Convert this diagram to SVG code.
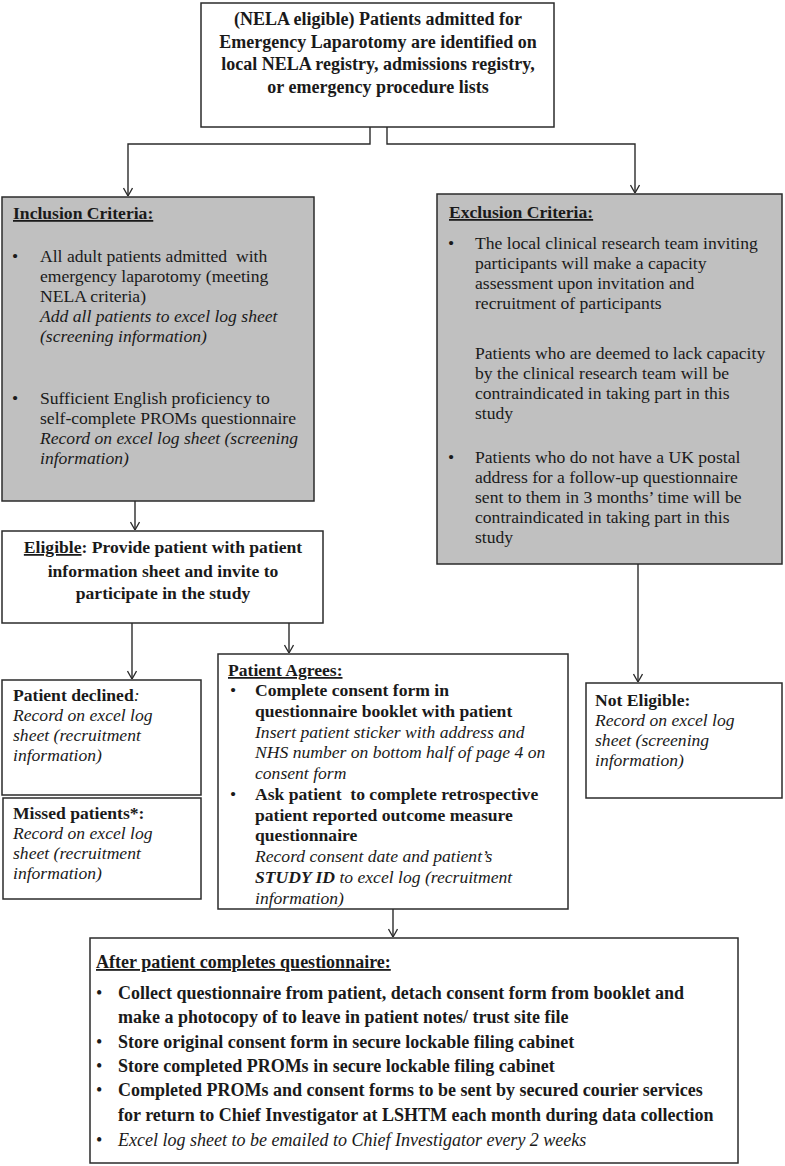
<svg xmlns="http://www.w3.org/2000/svg" width="785" height="1166" viewBox="0 0 785 1166">
<style>
.t{font-family:"Liberation Serif","Times New Roman",serif;font-size:17.6px;fill:#1a1a1a}
.h{font-size:18px}
.b{font-weight:bold}
.i{font-style:italic}
.u{text-decoration:underline}
.box{fill:#ffffff;stroke:#2b2b2b;stroke-width:1.5}
.grey{fill:#c0c0c0}
.conn{fill:none;stroke:#2b2b2b;stroke-width:1.4}
.c{text-anchor:middle}
</style>
<defs>
<marker id="arr" markerUnits="userSpaceOnUse" markerWidth="10" markerHeight="10" viewBox="0 0 10 10" refX="10" refY="5" orient="auto">
<path d="M2,0.5 L10,5 L2,9.5" fill="none" stroke="#2b2b2b" stroke-width="1.3"/>
</marker>
</defs>
<rect width="785" height="1166" fill="#ffffff"/>

<g id="connectors">
<polyline class="conn" points="370,127 370,144 128,144 128,196" marker-end="url(#arr)"/>
<polyline class="conn" points="387,127 387,144 635,144 635,193" marker-end="url(#arr)"/>
<line class="conn" x1="135" y1="501" x2="135" y2="530" marker-end="url(#arr)"/>
<line class="conn" x1="132" y1="623" x2="132" y2="679" marker-end="url(#arr)"/>
<line class="conn" x1="289" y1="623" x2="289" y2="653" marker-end="url(#arr)"/>
<line class="conn" x1="638" y1="564" x2="638" y2="682" marker-end="url(#arr)"/>
<line class="conn" x1="393" y1="909" x2="393" y2="937" marker-end="url(#arr)"/>
</g>

<g id="start">
<rect class="box" x="201" y="3" width="353" height="124"/>
<text class="t h b c" x="378" y="25">(NELA eligible) Patients admitted for</text>
<text class="t h b c" x="378" y="48">Emergency Laparotomy are identified on</text>
<text class="t h b c" x="378" y="70">local NELA registry, admissions registry,</text>
<text class="t h b c" x="378" y="93">or emergency procedure lists</text>
</g>

<g id="inclusion">
<rect class="box grey" x="2" y="197" width="312" height="304"/>
<text class="t b u" x="13" y="219">Inclusion Criteria:</text>
<text class="t" x="12" y="262">•</text>
<text class="t" x="40" y="262" xml:space="preserve">All adult patients admitted  with</text>
<text class="t" x="40" y="282">emergency laparotomy (meeting</text>
<text class="t" x="40" y="302">NELA criteria)</text>
<text class="t i" x="40" y="322">Add all patients to excel log sheet</text>
<text class="t i" x="40" y="342">(screening information)</text>
<text class="t" x="12" y="404">•</text>
<text class="t" x="40" y="404">Sufficient English proficiency to</text>
<text class="t" x="40" y="424">self-complete PROMs questionnaire</text>
<text class="t i" x="40" y="444">Record on excel log sheet (screening</text>
<text class="t i" x="40" y="464">information)</text>
</g>

<g id="exclusion">
<rect class="box grey" x="437" y="194" width="345" height="370"/>
<text class="t b u" x="449" y="218">Exclusion Criteria:</text>
<text class="t" x="448" y="249">•</text>
<text class="t" x="475" y="249">The local clinical research team inviting</text>
<text class="t" x="475" y="269">participants will make a capacity</text>
<text class="t" x="475" y="289">assessment upon invitation and</text>
<text class="t" x="475" y="309">recruitment of participants</text>
<text class="t" x="475" y="359">Patients who are deemed to lack capacity</text>
<text class="t" x="475" y="379">by the clinical research team will be</text>
<text class="t" x="475" y="399">contraindicated in taking part in this</text>
<text class="t" x="475" y="419">study</text>
<text class="t" x="448" y="463">•</text>
<text class="t" x="475" y="463">Patients who do not have a UK postal</text>
<text class="t" x="475" y="483">address for a follow-up questionnaire</text>
<text class="t" x="475" y="503">sent to them in 3 months’ time will be</text>
<text class="t" x="475" y="523">contraindicated in taking part in this</text>
<text class="t" x="475" y="543">study</text>
</g>

<g id="eligible">
<rect class="box" x="2" y="531" width="321" height="92"/>
<text class="t b c" x="163" y="553"><tspan class="u">Eligible</tspan>: Provide patient with patient</text>
<text class="t b c" x="163" y="577">information sheet and invite to</text>
<text class="t b c" x="163" y="599">participate in the study</text>
</g>

<g id="declined">
<rect class="box" x="2" y="680" width="199" height="115"/>
<text class="t" x="13" y="701"><tspan class="b">Patient declined</tspan><tspan class="i">:</tspan></text>
<text class="t i" x="13" y="721">Record on excel log</text>
<text class="t i" x="13" y="741">sheet (recruitment</text>
<text class="t i" x="13" y="761">information)</text>
</g>

<g id="missed">
<rect class="box" x="3" y="798" width="198" height="101"/>
<text class="t b" x="13" y="819">Missed patients*:</text>
<text class="t i" x="13" y="839">Record on excel log</text>
<text class="t i" x="13" y="859">sheet (recruitment</text>
<text class="t i" x="13" y="879">information)</text>
</g>

<g id="agrees">
<rect class="box" x="218" y="654" width="350" height="255"/>
<text class="t b u" x="228" y="676">Patient Agrees:</text>
<text class="t" x="230" y="696">•</text>
<text class="t b" x="255" y="696">Complete consent form in</text>
<text class="t b" x="255" y="717">questionnaire booklet with patient</text>
<text class="t i" x="255" y="738">Insert patient sticker with address and</text>
<text class="t i" x="255" y="758">NHS number on bottom half of page 4 on</text>
<text class="t i" x="255" y="779">consent form</text>
<text class="t" x="230" y="800">•</text>
<text class="t b" x="255" y="800" xml:space="preserve">Ask patient  to complete retrospective</text>
<text class="t b" x="255" y="821">patient reported outcome measure</text>
<text class="t b" x="255" y="841">questionnaire</text>
<text class="t i" x="255" y="862">Record consent date and patient’s</text>
<text class="t i" x="255" y="883"><tspan class="b">STUDY ID</tspan> to excel log (recruitment</text>
<text class="t i" x="255" y="904">information)</text>
</g>

<g id="not-eligible">
<rect class="box" x="586" y="683" width="196" height="115"/>
<text class="t b" x="595" y="706">Not Eligible:</text>
<text class="t i" x="595" y="726">Record on excel log</text>
<text class="t i" x="595" y="746">sheet (screening</text>
<text class="t i" x="595" y="766">information)</text>
</g>

<g id="after">
<rect class="box" x="90" y="938" width="648" height="225"/>
<text class="t h b u" x="96" y="968">After patient completes questionnaire:</text>
<text class="t h" x="96" y="999">•</text>
<text class="t h b" x="118" y="999">Collect questionnaire from patient, detach consent form from booklet and</text>
<text class="t h b" x="118" y="1023">make a photocopy of to leave in patient notes/ trust site file</text>
<text class="t h" x="96" y="1048">•</text>
<text class="t h b" x="118" y="1048">Store original consent form in secure lockable filing cabinet</text>
<text class="t h" x="96" y="1072">•</text>
<text class="t h b" x="118" y="1072">Store completed PROMs in secure lockable filing cabinet</text>
<text class="t h" x="96" y="1096">•</text>
<text class="t h b" x="118" y="1096">Completed PROMs and consent forms to be sent by secured courier services</text>
<text class="t h b" x="118" y="1121">for return to Chief Investigator at LSHTM each month during data collection</text>
<text class="t h" x="96" y="1146">•</text>
<text class="t h i" x="118" y="1146">Excel log sheet to be emailed to Chief Investigator every 2 weeks</text>
</g>
</svg>
